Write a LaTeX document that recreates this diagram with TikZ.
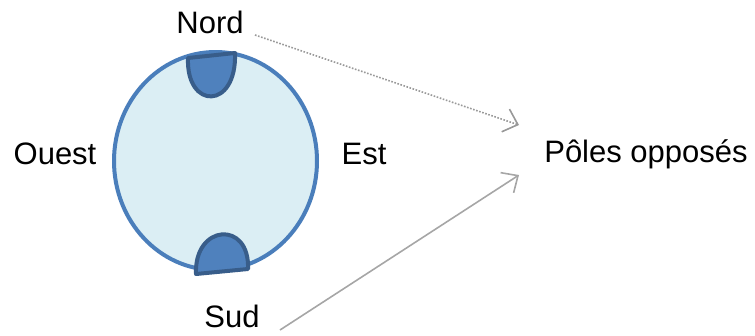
\documentclass[tikz,border=0pt]{standalone}
\usepackage{fontspec}
\setmainfont{Liberation Sans}
\usetikzlibrary{arrows.meta}
\definecolor{ellfill}{HTML}{DBEEF4}
\definecolor{ellline}{HTML}{4A7EBB}
\definecolor{capfill}{HTML}{4F81BD}
\definecolor{capline}{HTML}{385D8A}
\definecolor{arrgray}{HTML}{A6A6A6}
\begin{document}
\begin{tikzpicture}[x=1pt,y=-1pt,
  lbl/.style={font=\fontsize{31}{36}\selectfont, inner sep=0pt, text=black},
  capshape/.style={fill=capfill, draw=capline, line width=4pt, line join=round},
  conn/.style={draw=arrgray, line width=1.6pt, -{Straight Barb[length=13pt,width=24pt,line width=1.6pt]}}]
\useasboundingbox (0,0) rectangle (755,335);
% main ellipse
\draw[fill=ellfill, draw=ellline, line width=4pt] (215.5,161) ellipse [x radius=101.5, y radius=109];
% caps
\path[capshape] (188,58) .. controls (186,110) and (237,110) .. (235,53) -- cycle;
\path[capshape] (196,274) .. controls (194,224) and (250,220) .. (248,269) -- cycle;
% labels
\node[lbl] (nord) at (210,22) {Nord};
\node[lbl] (ouest) at (55,154) {Ouest};
\node[lbl] (est) at (364,154) {Est};
\node[lbl] (sud) at (232,316) {Sud};
\node[lbl] (poles) at (646,154) {Pôles opposés};
% connectors
\coordinate (a1) at (255,35);
\coordinate (b1) at (519,125);
\coordinate (a2) at (280,330);
\coordinate (b2) at (519,175);
\draw[conn, draw=gray!80, dash pattern=on 1.6pt off 1.6pt] (a1) -- (b1);
\draw[conn] (a2) -- (b2);
\end{tikzpicture}
\end{document}
